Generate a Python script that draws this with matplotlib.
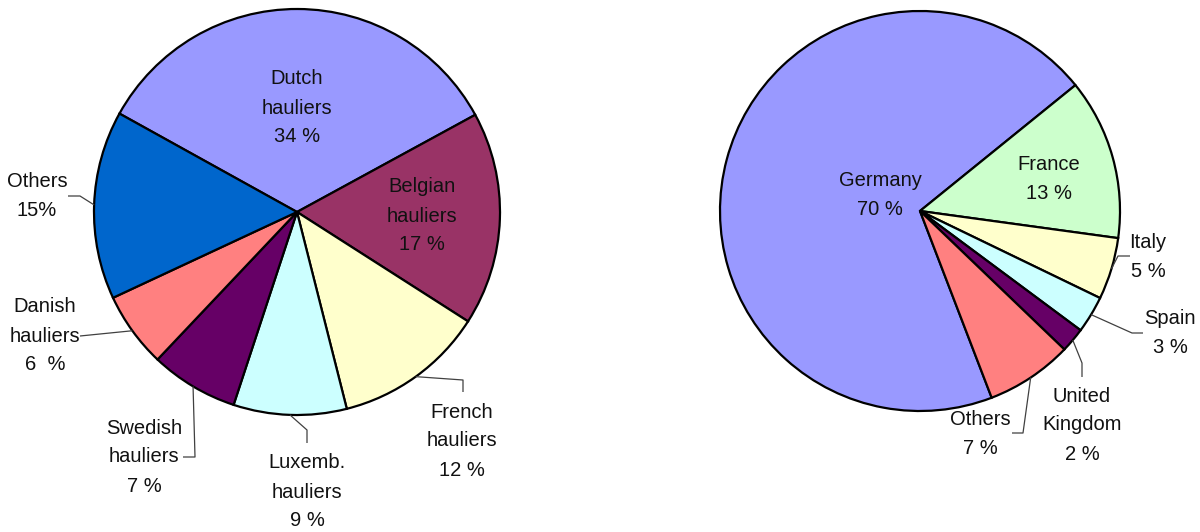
import matplotlib
matplotlib.use("Agg")
import matplotlib.pyplot as plt
import numpy as np

# ---------------- data ----------------
left_names = ["Dutch\nhauliers", "Belgian\nhauliers", "French\nhauliers", "Luxemb.\nhauliers",
              "Swedish\nhauliers", "Danish\nhauliers", "Others"]
left_values = [34, 17, 12, 9, 7, 6, 15]
left_pct = ["34 %", "17 %", "12 %", "9 %", "7 %", "6  %", "15%"]

right_names = ["Germany", "France", "Italy", "Spain", "United\nKingdom", "Others"]
right_values = [70, 13, 5, 3, 2, 7]
right_pct = ["70 %", "13 %", "5 %", "3 %", "2 %", "7 %"]

# ---------------- styles / layout ----------------
left_colors = ["#9999FF", "#993366", "#FFFFCC", "#CCFFFF", "#660066", "#FF8080", "#0066CC"]
right_colors = ["#9999FF", "#CCFFCC", "#FFFFCC", "#CCFFFF", "#660066", "#FF8080"]

W, H = 1200, 532
FONT = ["Liberation Sans", "DejaVu Sans"]
FS = 14.5
LINE_STEP = 29  # px between text lines

# pie geometry in pixel coords (origin top-left)
left_geom = dict(cx=297, cy=212, r=203, start=151)
right_geom = dict(cx=920, cy=211, r=200, start=291)

# label block centres (px, top-left origin)
left_label_pos = [(297, 108), (422, 216), (462, 441), (307, 492), (144, 457), (45, 336), (37, 196)]
right_label_pos = [(880, 195), (1049, 179), (1148, 257), (1170, 333), (1082, 425), (980, 434)]

# leader line elbows (px), anchor on pie edge is computed; None = no leader
left_leaders = [None, None, [(463, 392), (463, 380)], [(307, 443), (307, 430)],
                [(183, 457), (195, 457)], [(80, 336)], [(68, 196), (80, 196)]]
right_leaders = [None, None, [(1130, 256), (1118, 256)], [(1143, 333), (1132, 333)],
                 [(1082, 377), (1082, 363)], [(1012, 433), (1023, 433)]]

fig = plt.figure(figsize=(W / 100, H / 100), dpi=100)
ax = fig.add_axes([0, 0, 1, 1])


def py(y):
    return H - y


def draw_pie(values, colors, names, pcts, geom, label_pos, leaders):
    wedges, _ = ax.pie(values, colors=colors, startangle=geom["start"], counterclock=False,
                       center=(geom["cx"], py(geom["cy"])), radius=geom["r"],
                       wedgeprops=dict(edgecolor="black", linewidth=1.6))
    for w, name, pct, (lx, ly), lead in zip(wedges, names, pcts, label_pos, leaders):
        lines = name.split("\n") + [pct]
        n = len(lines)
        for i, t in enumerate(lines):
            yy = ly + (i - (n - 1) / 2) * LINE_STEP
            ax.text(lx, py(yy), t, ha="center", va="center", fontsize=FS,
                    family=FONT, color="#111111")
        if lead is not None:
            mid = np.deg2rad((w.theta1 + w.theta2) / 2)
            axp = geom["cx"] + geom["r"] * np.cos(mid)
            ayp = geom["cy"] - geom["r"] * np.sin(mid)
            pts = list(lead) + [(axp, ayp)]
            xs = [p[0] for p in pts]
            ys = [py(p[1]) for p in pts]
            ax.plot(xs, ys, color="#404040", lw=0.9, solid_capstyle="butt")


draw_pie(left_values, left_colors, left_names, left_pct, left_geom, left_label_pos, left_leaders)
draw_pie(right_values, right_colors, right_names, right_pct, right_geom, right_label_pos, right_leaders)

ax.set_xlim(0, W)
ax.set_ylim(0, H)
ax.set_aspect("equal")
ax.axis("off")

fig.savefig("out.png", dpi=100, facecolor="white")
